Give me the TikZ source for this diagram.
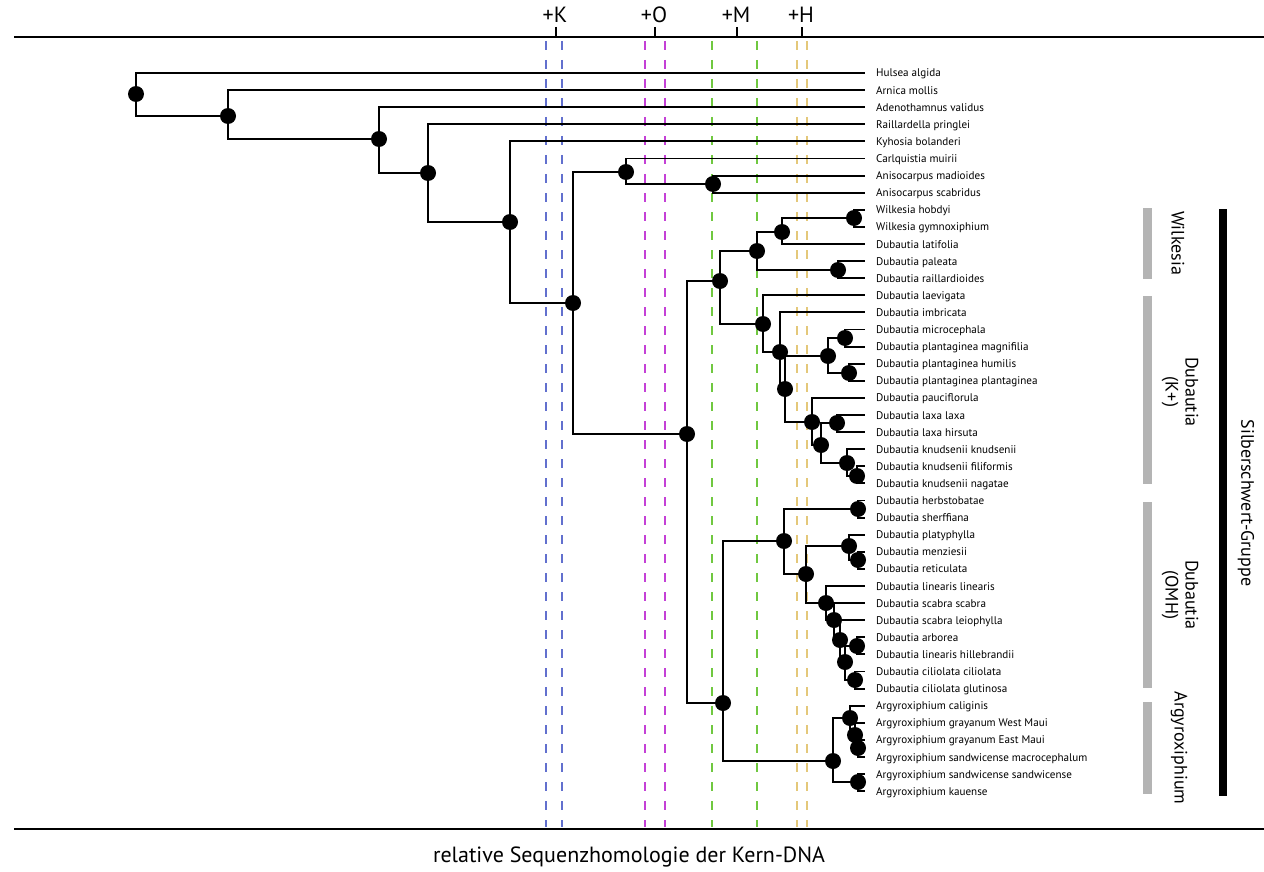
\documentclass[tikz,border=0pt]{standalone}
\usepackage{fontspec}
\setmainfont{PT Sans}
\definecolor{cblue}{RGB}{98,112,206}
\definecolor{cmag}{RGB}{196,64,214}
\definecolor{cgreen}{RGB}{112,200,64}
\definecolor{cyel}{RGB}{228,200,122}
\definecolor{cgrey}{RGB}{180,180,180}
\newcommand\brn[2]{\draw[branch] (#1.center) |- (#2.center);}
\begin{document}
\begin{tikzpicture}[x=1pt,y=-1pt,
 branch/.style={line width=1.9pt,black},
 dot/.style={circle,fill=black,inner sep=0pt,minimum size=16pt},
 leaflabel/.style={anchor=base west,inner sep=0pt,font=\fontsize{11.1}{13}\selectfont},
 guide/.style={line width=2.4pt,dash pattern=on 9pt off 10pt},
 axisline/.style={line width=2.6pt,black},
 tickmark/.style={line width=1.5pt,black},
 toplabel/.style={font=\fontsize{22}{24}\selectfont,inner sep=0pt},
 grpbar/.style={fill=cgrey},
 grplabel/.style={rotate=-90,align=center,font=\fontsize{18}{20}\selectfont,inner sep=0pt},
]
\useasboundingbox (0,0) rectangle (1264,872);

% guides
\foreach \x/\c in {546/cblue,562/cblue,645/cmag,665/cmag,712/cgreen,757/cgreen,797/cyel,807/cyel}
  \draw[guide,\c] (\x,41) -- (\x,827);

% axes
\coordinate (axtl) at (14,37); \coordinate (axtr) at (1264,37);
\coordinate (axbl) at (14,829); \coordinate (axbr) at (1264,829);
\draw[axisline] (axtl) -- (axtr);
\draw[axisline] (axbl) -- (axbr);
\foreach \x/\t/\n in {556/+K/K,655/+O/O,737/+M/M,802/+H/H}{
  \coordinate (tk\n a) at (\x,27); \coordinate (tk\n b) at (\x,37);
  \draw[tickmark] (tk\n a) -- (tk\n b);
  \node[toplabel] (lab\n) at (\x-1,15) {\t};
}
\node[font=\fontsize{22}{26}\selectfont,inner sep=0pt] (caption) at (629,857) {relative Sequenzhomologie der Kern-DNA};

% leaves
\foreach \n [count=\i] in {Hulsea algida,Arnica mollis,Adenothamnus validus,Raillardella pringlei,Kyhosia bolanderi,Carlquistia muirii,Anisocarpus madioides,Anisocarpus scabridus,Wilkesia hobdyi,Wilkesia gymnoxiphium,Dubautia latifolia,Dubautia paleata,Dubautia raillardioides,Dubautia laevigata,Dubautia imbricata,Dubautia microcephala,Dubautia plantaginea magnifilia,Dubautia plantaginea humilis,Dubautia plantaginea plantaginea,Dubautia pauciflorula,Dubautia laxa laxa,Dubautia laxa hirsuta,Dubautia knudsenii knudsenii,Dubautia knudsenii filiformis,Dubautia knudsenii nagatae,Dubautia herbstobatae,Dubautia sherffiana,Dubautia platyphylla,Dubautia menziesii,Dubautia reticulata,Dubautia linearis linearis,Dubautia scabra scabra,Dubautia scabra leiophylla,Dubautia arborea,Dubautia linearis hillebrandii,Dubautia ciliolata ciliolata,Dubautia ciliolata glutinosa,Argyroxiphium caliginis,Argyroxiphium grayanum West Maui,Argyroxiphium grayanum East Maui,Argyroxiphium sandwicense macrocephalum,Argyroxiphium sandwicense sandwicense,Argyroxiphium kauense}{
  \coordinate (e\i) at (865,{73+17.1*(\i-1)});
  \node[leaflabel] (t\i) at (876,{77+17.1*(\i-1)}) {\n};
}

% internal nodes
\node[dot] (A) at (136,94) {};
\node[dot] (B) at (228,116) {};
\node[dot] (C) at (379,139) {};
\node[dot] (D) at (428,173) {};
\node[dot] (E) at (510,222) {};
\node[dot] (F) at (573,303) {};
\node[dot] (G) at (626,172) {};
\node[dot] (I) at (713,184) {};
\node[dot] (H) at (687,434) {};
\node[dot] (J) at (720,281) {};
\node[dot] (L) at (757,251) {};
\node[dot] (N) at (782,232) {};
\node[dot] (P) at (854,218) {};
\node[dot] (O) at (838,270) {};
\node[dot] (M) at (763,324) {};
\node[dot] (Q) at (780,352) {};
\node[dot] (R) at (785,389) {};
\node[dot] (S) at (828,356) {};
\node[dot] (T) at (845,338) {};
\node[dot] (U) at (849,373) {};
\node[dot] (V) at (812,422) {};
\node[dot] (W) at (821,445) {};
\node[dot] (X) at (837,423) {};
\node[dot] (Y) at (847,463) {};
\node[dot] (Z) at (857,476) {};
\node[dot] (K) at (723,703) {};
\node[dot] (AA) at (784,541) {};
\node[dot] (AD) at (858,509) {};
\node[dot] (AC) at (806,574) {};
\node[dot] (AE) at (849,546) {};
\node[dot] (AF) at (858,560) {};
\node[dot] (AG) at (826,603) {};
\node[dot] (AH) at (834,620) {};
\node[dot] (AI) at (840,640) {};
\node[dot] (AJ) at (845,662) {};
\node[dot] (AK) at (857,646) {};
\node[dot] (AL) at (855,680) {};
\node[dot] (AB) at (833,761) {};
\node[dot] (AM) at (850,718) {};
\node[dot] (AO) at (855,735) {};
\node[dot] (AP) at (858,748) {};
\node[dot] (AN) at (858,782) {};

% branches
\brn{A}{e1} \brn{A}{B}
\brn{B}{e2} \brn{B}{C}
\brn{C}{e3} \brn{C}{D}
\brn{D}{e4} \brn{D}{E}
\brn{E}{e5} \brn{E}{F}
\brn{F}{G} \brn{F}{H}
\brn{G}{e6} \brn{G}{I}
\brn{I}{e7} \brn{I}{e8}
\brn{H}{J} \brn{H}{K}
\brn{J}{L} \brn{J}{M}
\brn{L}{N} \brn{L}{O}
\brn{N}{P} \brn{N}{e11}
\brn{P}{e9} \brn{P}{e10}
\brn{O}{e12} \brn{O}{e13}
\brn{M}{e14} \brn{M}{Q}
\brn{Q}{e15} \brn{Q}{R}
\brn{R}{S} \brn{R}{V}
\brn{S}{T} \brn{S}{U}
\brn{T}{e16} \brn{T}{e17}
\brn{U}{e18} \brn{U}{e19}
\brn{V}{e20} \brn{V}{W}
\brn{W}{X} \brn{W}{Y}
\brn{X}{e21} \brn{X}{e22}
\brn{Y}{e23} \brn{Y}{Z}
\brn{Z}{e24} \brn{Z}{e25}
\brn{K}{AA} \brn{K}{AB}
\brn{AA}{AD} \brn{AA}{AC}
\brn{AD}{e26} \brn{AD}{e27}
\brn{AC}{AE} \brn{AC}{AG}
\brn{AE}{e28} \brn{AE}{AF}
\brn{AF}{e29} \brn{AF}{e30}
\brn{AG}{e31} \brn{AG}{AH}
\brn{AH}{e32} \brn{AH}{AI}
\brn{AI}{e33} \brn{AI}{AJ}
\brn{AJ}{AK} \brn{AJ}{AL}
\brn{AK}{e34} \brn{AK}{e35}
\brn{AL}{e36} \brn{AL}{e37}
\brn{AB}{AM} \brn{AB}{AN}
\brn{AM}{e38} \brn{AM}{AO}
\brn{AO}{e39} \brn{AO}{AP}
\brn{AP}{e40} \brn{AP}{e41}
\brn{AN}{e42} \brn{AN}{e43}

% groups
\fill[grpbar] (1143,208) rectangle (1152,279);
\fill[grpbar] (1143,296) rectangle (1152,484);
\fill[grpbar] (1143,502) rectangle (1152,688);
\fill[grpbar] (1143,702) rectangle (1152,794);
\fill[black] (1219,209) rectangle (1227,796);
\node[grplabel] (gW) at (1178,243) {Wilkesia};
\node[grplabel] (gK) at (1180,392) {Dubautia\\(K+)};
\node[grplabel] (gO) at (1180,595) {Dubautia\\(OMH)};
\node[grplabel] (gA) at (1179,748) {Argyroxiphium};
\node[grplabel] (gS) at (1246,503) {Silberschwert-Gruppe};
\end{tikzpicture}
\end{document}
